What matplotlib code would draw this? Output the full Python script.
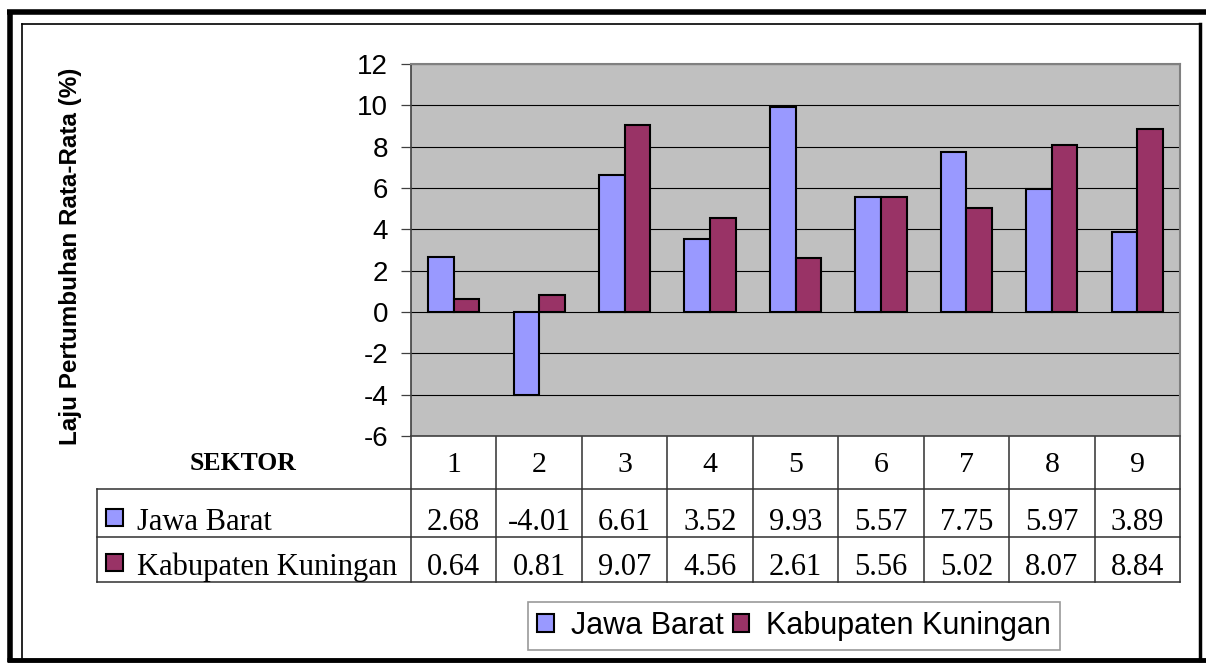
import numpy as np
import matplotlib.pyplot as plt
from matplotlib.patches import Rectangle

plt.rcParams['font.family'] = 'Liberation Sans'
plt.rcParams['axes.unicode_minus'] = False

sektor = ['1', '2', '3', '4', '5', '6', '7', '8', '9']
jawa_barat = [2.68, -4.01, 6.61, 3.52, 9.93, 5.57, 7.75, 5.97, 3.89]
kuningan = [0.64, 0.81, 9.07, 4.56, 2.61, 5.56, 5.02, 8.07, 8.84]
series_names = ['Jawa Barat', 'Kabupaten Kuningan']
series_colors = ['#9999FF', '#993366']
y_ticks = [-6, -4, -2, 0, 2, 4, 6, 8, 10, 12]

W, H = 1206, 666
fig = plt.figure(figsize=(W / 100, H / 100), dpi=100)


def px(x0, y0, x1, y1):
    # pixel box (top-left origin) -> figure fraction rect
    return [x0 / W, 1 - y1 / H, (x1 - x0) / W, (y1 - y0) / H]


# overlay in pixel coordinates for frame and table
bg = fig.add_axes([0, 0, 1, 1])
bg.set_xlim(0, W)
bg.set_ylim(H, 0)
bg.axis('off')

# chart frame
bg.plot([7, W], [12, 12], color='black', lw=4, solid_capstyle='butt')
bg.plot([9.5, 9.5], [10, 662], color='black', lw=4, solid_capstyle='butt')
bg.plot([7, W], [659.5, 659.5], color='black', lw=3.5, solid_capstyle='butt')
bg.plot([22, 1200], [24, 24], color='black', lw=1.2)
bg.plot([22, 22], [24, 658], color='black', lw=1.2)
bg.plot([1200, 1200], [24, 660], color='black', lw=2.5)

ax = fig.add_axes(px(411, 64, 1180, 436))
x = np.arange(len(sektor))
w = 0.3
bars_jb = ax.bar(x - w / 2, jawa_barat, w, color=series_colors[0],
                 edgecolor='black', linewidth=1.5, zorder=3, label=series_names[0])
bars_kk = ax.bar(x + w / 2, kuningan, w, color=series_colors[1],
                 edgecolor='black', linewidth=1.5, zorder=3, label=series_names[1])

ax.set_xlim(-0.5, len(sektor) - 0.5)
ax.set_ylim(y_ticks[0], y_ticks[-1])
ax.set_yticks(y_ticks)
ax.set_xticks([])
ax.set_facecolor('#C0C0C0')
ax.yaxis.grid(True, color='black', linewidth=0.8)
ax.set_axisbelow(True)
for s in ['top', 'right']:
    ax.spines[s].set_color('#808080')
    ax.spines[s].set_linewidth(1.5)
for s in ['left', 'bottom']:
    ax.spines[s].set_color('#404040')
    ax.spines[s].set_linewidth(1.2)
ax.tick_params(axis='y', direction='out', length=7.5, width=0.9,
               labelsize=20, pad=9, color='#404040')

fig.text(71 / W, 1 - 256 / H, 'Laju Pertumbuhan Rata-Rata (%)', rotation=90,
         fontsize=17.5, fontweight='bold', ha='center', va='center')

# data table under the axis
edges = ax.transData.transform(np.column_stack([np.arange(len(sektor) + 1) - 0.5,
                                                np.zeros(len(sektor) + 1)]))[:, 0]
centers = (edges[:-1] + edges[1:]) / 2
row_y = [436, 489, 537, 582]
line_kw = dict(color='#303030', lw=1.1)
for e in edges:
    bg.plot([e, e], [row_y[0], row_y[-1]], **line_kw)
for ry in row_y[1:]:
    bg.plot([97, edges[-1]], [ry, ry], **line_kw)
bg.plot([97, 97], [row_y[1], row_y[-1]], **line_kw)

serif = 'Liberation Serif'
bg.text(243, 470, 'SEKTOR', family=serif, fontsize=18.5, fontweight='bold',
        ha='center', va='baseline')
for cx, lab in zip(centers, sektor):
    bg.text(cx, 472, lab, family=serif, fontsize=21.5, ha='center', va='baseline')

for name, col, vals, base in zip(series_names, series_colors,
                                 [jawa_barat, kuningan], [530, 575]):
    bg.add_patch(Rectangle((106, base - 21), 17, 17, facecolor=col,
                           edgecolor='black', lw=1.5))
    bg.text(137, base, name, family=serif, fontsize=22, ha='left', va='baseline')
    for cx, v in zip(centers, vals):
        bg.text(cx, base, f'{v:.2f}', family=serif, fontsize=22,
                ha='center', va='baseline')

leg = fig.legend(handles=[bars_jb, bars_kk], loc='center',
                 bbox_to_anchor=(794 / W, 1 - 626 / H), ncol=2, fontsize=22,
                 frameon=True, fancybox=False, edgecolor='#808080',
                 handlelength=0.55, handleheight=0.55, handletextpad=0.55,
                 columnspacing=0.3, borderpad=0.3, borderaxespad=0)
leg.get_frame().set_linewidth(1.2)

fig.savefig('out.png', dpi=100)
